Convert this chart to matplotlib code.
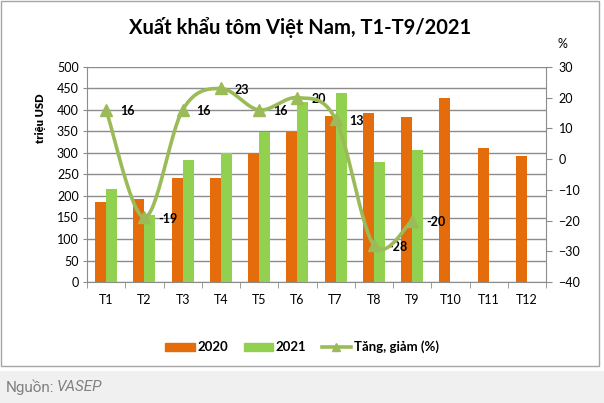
import numpy as np
import matplotlib.pyplot as plt
from matplotlib.patches import Rectangle
from matplotlib.lines import Line2D

months = ["T1", "T2", "T3", "T4", "T5", "T6", "T7", "T8", "T9", "T10", "T11", "T12"]
exp_2020 = [187, 194, 243, 243, 299, 349, 387, 392, 384, 429, 312, 293]
exp_2021 = [216, 156, 283, 299, 349, 419, 440, 280, 308]
change_pct = [16, -19, 16, 23, 16, 20, 13, -28, -20]

ORANGE = "#E46C0A"
GREEN = "#92D050"
LINE_GREEN = "#9BBB59"
GRID = "#8C8C8C"

plt.rcParams['font.family'] = ['Lato', 'DejaVu Sans']


# Excel-style smoothed line: cubic bezier through the points
def smooth(xs, ys, n=30):
    p = np.column_stack([xs, ys]).astype(float)
    out = []
    for i in range(len(p) - 1):
        p0 = p[i - 1] if i > 0 else p[i]
        p3 = p[i + 2] if i + 2 < len(p) else p[i + 1]
        c1 = p[i] + (p[i + 1] - p0) / 6
        c2 = p[i + 1] - (p3 - p[i]) / 6
        t = np.linspace(0, 1, n)[:, None]
        seg = ((1 - t) ** 3 * p[i] + 3 * (1 - t) ** 2 * t * c1
               + 3 * (1 - t) * t ** 2 * c2 + t ** 3 * p[i + 1])
        out.append(seg if i == 0 else seg[1:])
    seg = np.vstack(out)
    return seg[:, 0], seg[:, 1]


fig = plt.figure(figsize=(6.04, 4.03), dpi=100)
fig.patch.set_facecolor("white")
fig.patches.append(Rectangle((0, 0), 1, 32 / 403, transform=fig.transFigure,
                             facecolor="#F0F0F0", edgecolor="none", zorder=0))
fig.patches.append(Rectangle((1 / 604, 37 / 403), 598 / 604, 365 / 403,
                             transform=fig.transFigure, facecolor="none",
                             edgecolor="#A6A6A6", linewidth=1, zorder=1))

ax = fig.add_axes([87 / 604, 121 / 403, 459 / 604, 215 / 403])
x = np.arange(len(months))
w = 0.29
ax.bar(x[:len(exp_2020)] - w / 2, exp_2020, w, color=ORANGE, zorder=3, label="2020")
ax.bar(x[:len(exp_2021)] + w / 2, exp_2021, w, color=GREEN, zorder=3, label="2021")

ax.set_xlim(-0.5, len(months) - 0.5)
ax.set_ylim(0, 500)
ax.set_yticks(range(0, 501, 50))
ax.yaxis.grid(True, color=GRID, linewidth=1)
ax.set_axisbelow(True)
ax.set_xticks(x)
ax.set_xticklabels(months)
ax.set_xticks(np.arange(-0.5, len(months), 1), minor=True)
ax.tick_params(axis="x", which="major", length=0, pad=9, labelsize=9)
ax.tick_params(axis="x", which="minor", length=4, color=GRID, direction="out")
ax.tick_params(axis="y", length=3, color=GRID, labelsize=9, pad=3)
for s in ["top", "right"]:
    ax.spines[s].set_visible(False)
for s in ["left", "bottom"]:
    ax.spines[s].set_color(GRID)
ax.set_ylabel("triệu USD", fontsize=8, fontweight="heavy")
ax.yaxis.set_label_coords(-0.09, 0.76)

ax2 = ax.twinx()
ax2.set_ylim(-40, 30)
ax2.set_yticks(range(-40, 31, 10))
ax2.tick_params(axis="y", length=4, color=GRID, labelsize=9, pad=5)
for s in ["top", "left", "bottom"]:
    ax2.spines[s].set_visible(False)
ax2.spines["right"].set_color(GRID)

xp = x[:len(change_pct)]
sx, sy = smooth(xp, change_pct)
ax2.plot(sx, sy, color=LINE_GREEN, linewidth=2.6, zorder=4, solid_capstyle="round")
ax2.plot(xp, change_pct, linestyle="none", marker="^", markersize=8,
         color=LINE_GREEN, zorder=5)
for xi, v in zip(xp, change_pct):
    ax2.annotate(str(v), (xi, v), xytext=(10, -1), textcoords="offset points",
                 ha="left", va="center", fontsize=9, fontweight="bold")

fig.text(300 / 604, 1 - 27 / 403, "Xuất khẩu tôm Việt Nam, T1-T9/2021",
         ha="center", va="center", fontsize=14.5, fontweight="bold")
fig.text(562 / 604, 1 - 44 / 403, "%", ha="center", va="center", fontsize=9)

handles = [Rectangle((0, 0), 1, 1, color=ORANGE),
           Rectangle((0, 0), 1, 1, color=GREEN),
           Line2D([], [], color=LINE_GREEN, linewidth=2.6, marker="^", markersize=6)]
fig.legend(handles, ["2020", "2021", "Tăng, giảm (%)"], loc="center",
           bbox_to_anchor=(302 / 604, 1 - 347 / 403), ncol=3, frameon=False,
           handlelength=2.2, handleheight=0.55, columnspacing=1.2,
           handletextpad=0.2, prop={"weight": "bold", "size": 9.5})

fig.text(6 / 604, 16 / 403, "Nguồn:", ha="left", va="center", fontsize=11,
         color="#808080", family="Roboto")
fig.text(57 / 604, 16 / 403, "VASEP", ha="left", va="center", fontsize=11,
         color="#808080", family="Roboto", style="italic")

fig.savefig("out.png", dpi=100)
